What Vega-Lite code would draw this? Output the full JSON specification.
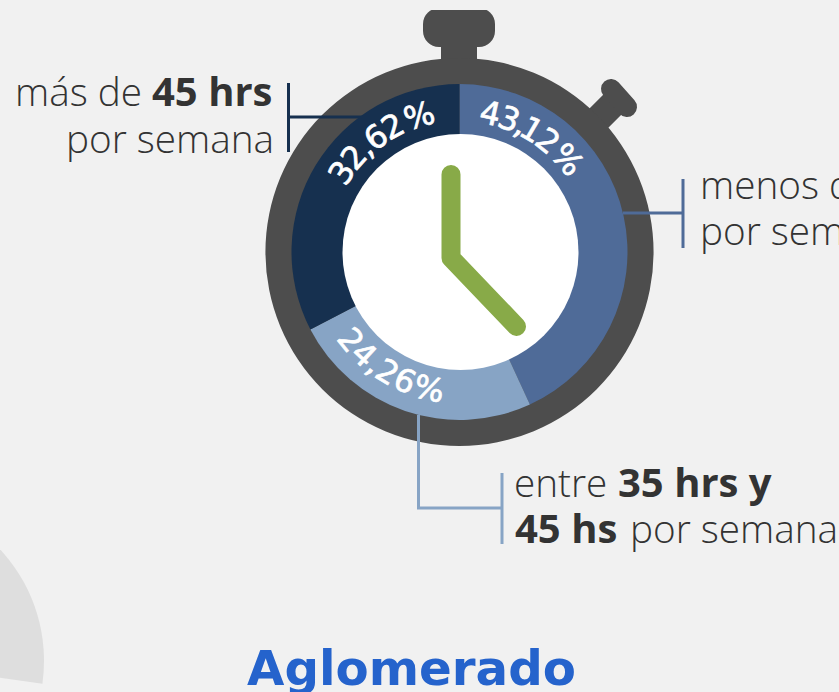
{
"$schema":"https://vega.github.io/schema/vega-lite/v6.json",
"width":839,"height":692,"padding":0,"autosize":{"type":"none"},
"background":"#f1f1f1",
"config":{"view":{"stroke":null}},
"resolve":{"scale":{"theta":"independent"}},
"datasets":{
"center":[{"x":459.5,"y":252}],
"face":[{"x":460.5,"y":252}],
"side":[{"x":-120,"y":661}],
"segments":[
{"x":459.5,"y":252,"seg":"menos","pct":43.12,"ord":1},
{"x":459.5,"y":252,"seg":"entre","pct":24.26,"ord":2},
{"x":459.5,"y":252,"seg":"mas","pct":32.62,"ord":3}],
"crown":[{"x":423,"x2":495,"y":8,"y2":47}],
"stem":[{"x":441,"x2":477,"y":40,"y2":70}],
"cover":[{"x":0,"x2":839,"y":0,"y2":10}],
"stub":[{"x":590,"y":127,"x2":619,"y2":98}],
"button":[{"x":611,"y":89,"x2":627,"y2":107}],
"hand":[{"x":451,"y":174.5,"o":1},{"x":451,"y":258,"o":2},{"x":516.5,"y":326.5,"o":3}],
"leaders":[
{"seg":"mas","x":288.5,"x2":288.5,"y":83,"y2":152},
{"seg":"mas","x":288.5,"x2":362,"y":117,"y2":117},
{"seg":"menos","x":623,"x2":683,"y":213,"y2":213},
{"seg":"menos","x":683,"x2":683,"y":179,"y2":248},
{"seg":"entre","x":418.5,"x2":418.5,"y":415,"y2":508},
{"seg":"entre","x":417,"x2":502,"y":508,"y2":508},
{"seg":"entre","x":502,"x2":502,"y":473,"y2":544}],
"glyphs":[
{"x":459.5,"y":252,"c":"4","deg":12.5,"rot":12.5},
{"x":459.5,"y":252,"c":"3","deg":20.5,"rot":20.5},
{"x":459.5,"y":252,"c":",","deg":26,"rot":26},
{"x":459.5,"y":252,"c":"1","deg":30.5,"rot":30.5},
{"x":459.5,"y":252,"c":"2","deg":38.5,"rot":38.5},
{"x":459.5,"y":252,"c":"%","deg":49.5,"rot":49.5},
{"x":459.5,"y":252,"c":"3","deg":304,"rot":304},
{"x":459.5,"y":252,"c":"2","deg":312,"rot":312},
{"x":459.5,"y":252,"c":",","deg":318,"rot":318},
{"x":459.5,"y":252,"c":"6","deg":324,"rot":324},
{"x":459.5,"y":252,"c":"2","deg":332,"rot":332},
{"x":459.5,"y":252,"c":"%","deg":343.5,"rot":343.5},
{"x":459.5,"y":252,"c":"2","deg":231,"rot":51},
{"x":459.5,"y":252,"c":"4","deg":223,"rot":43},
{"x":459.5,"y":252,"c":",","deg":217,"rot":37},
{"x":459.5,"y":252,"c":"2","deg":211,"rot":31},
{"x":459.5,"y":252,"c":"6","deg":203,"rot":23},
{"x":459.5,"y":252,"c":"%","deg":192.5,"rot":12.5}],
"light":[
{"t":"más de","x":15,"y":106},
{"t":"por semana","x":66,"y":153},
{"t":"menos de","x":700,"y":199},
{"t":"por semana","x":700,"y":245},
{"t":"entre","x":514,"y":497},
{"t":"por semana","x":630,"y":543}],
"bold":[
{"t":"45 hrs","x":152,"y":106},
{"t":"35 hrs y","x":618,"y":497},
{"t":"45 hs","x":515,"y":543}],
"title":[{"t":"Aglomerado","x":247,"y":685}]
},
"encoding":{
"x":{"field":"x","type":"quantitative","axis":null,"scale":{"domain":[0,839],"range":[0,839],"nice":false,"zero":false}},
"y":{"field":"y","type":"quantitative","axis":null,"scale":{"domain":[0,692],"range":[0,692],"nice":false,"zero":false}}
},
"layer":[
{"data":{"name":"side"},"mark":{"type":"arc","theta":0,"theta2":1.71,"radius":164,"radius2":0,"fill":"#dedede"}},
{"data":{"name":"crown"},"mark":{"type":"rect","cornerRadius":16,"fill":"#4d4d4d"},"encoding":{"x2":{"field":"x2"},"y2":{"field":"y2"}}},
{"data":{"name":"cover"},"mark":{"type":"rect","fill":"#f1f1f1"},"encoding":{"x2":{"field":"x2"},"y2":{"field":"y2"}}},
{"data":{"name":"stem"},"mark":{"type":"rect","fill":"#4d4d4d"},"encoding":{"x2":{"field":"x2"},"y2":{"field":"y2"}}},
{"data":{"name":"stub"},"mark":{"type":"rule","stroke":"#4d4d4d","strokeWidth":27},"encoding":{"x2":{"field":"x2"},"y2":{"field":"y2"}}},
{"data":{"name":"button"},"mark":{"type":"rule","stroke":"#4d4d4d","strokeWidth":20,"strokeCap":"round"},"encoding":{"x2":{"field":"x2"},"y2":{"field":"y2"}}},
{"data":{"name":"center"},"mark":{"type":"arc","theta":0,"theta2":6.2832,"radius":194,"radius2":0,"fill":"#4d4d4d"}},
{"data":{"name":"segments"},"mark":{"type":"arc","radius":168,"radius2":0},
 "encoding":{"theta":{"field":"pct","type":"quantitative","stack":true},"order":{"field":"ord"},
 "color":{"field":"seg","type":"nominal","legend":null,"scale":{"domain":["menos","entre","mas"],"range":["#4f6b98","#87a4c5","#16304f"]}}}},
{"data":{"name":"face"},"mark":{"type":"arc","theta":0,"theta2":6.2832,"radius":118,"radius2":0,"fill":"#ffffff"}},
{"data":{"name":"hand"},"mark":{"type":"line","stroke":"#88aa48","strokeWidth":19,"strokeCap":"round","strokeJoin":"round"},"encoding":{"order":{"field":"o"}}},
{"data":{"name":"leaders"},"mark":{"type":"rule","strokeWidth":3},
 "encoding":{"x2":{"field":"x2"},"y2":{"field":"y2"},
 "color":{"field":"seg","type":"nominal","legend":null,"scale":{"domain":["menos","entre","mas"],"range":["#4f6b98","#87a4c5","#16304f"]}}}},
{"data":{"name":"glyphs"},"mark":{"type":"text","radius":141,"font":"DejaVu Sans","fontSize":32,"fontWeight":400,"fill":"#ffffff","stroke":"#ffffff","strokeWidth":0.7,"align":"center","baseline":"middle"},
 "encoding":{"text":{"field":"c"},
 "theta":{"field":"deg","type":"quantitative","stack":null,"scale":{"domain":[0,360],"range":[0,6.28319]}},
 "angle":{"field":"rot","type":"quantitative","scale":null}}},
{"data":{"name":"light"},"mark":{"type":"text","font":"Open Sans","fontSize":38.7,"fontWeight":300,"fill":"#333333","align":"left","baseline":"alphabetic"},"encoding":{"text":{"field":"t"}}},
{"data":{"name":"bold"},"mark":{"type":"text","font":"Open Sans","fontSize":40,"fontWeight":700,"fill":"#333333","align":"left","baseline":"alphabetic"},"encoding":{"text":{"field":"t"}}},
{"data":{"name":"title"},"mark":{"type":"text","font":"DejaVu Sans","fontSize":48.3,"fontWeight":700,"fill":"#2563cc","align":"left","baseline":"alphabetic"},"encoding":{"text":{"field":"t"}}}
]
}
